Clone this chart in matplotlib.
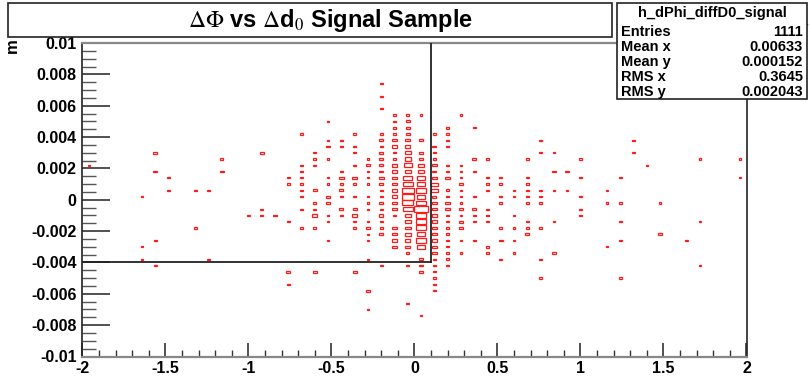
import numpy as np
import matplotlib
matplotlib.use("Agg")
import matplotlib.pyplot as plt
from matplotlib.patches import Rectangle

# ---------------- data ----------------
x_range = (-2.0, 2.0)
y_range = (-0.01, 0.01)
x_bin_width = 0.08
y_bin_width = 0.0004

row_y = [0.0086, 0.0074, 0.0066, 0.0058, 0.0054, 0.0050, 0.0046, 0.0042, 0.0038,
         0.0034, 0.0030, 0.0026, 0.0022, 0.0018, 0.0014, 0.0010, 0.0006, 0.0002,
         -0.0002, -0.0006, -0.0010, -0.0014, -0.0018, -0.0022, -0.0026, -0.0030,
         -0.0034, -0.0038, -0.0042, -0.0046, -0.0050, -0.0054, -0.0058, -0.0066,
         -0.0070, -0.0074]

row_x = [
    [1.32],
    [-0.20],
    [-0.20],
    [-0.20],
    [-0.12, -0.04, 0.04, 0.28],
    [-0.52, -0.12, -0.04],
    [-0.12, -0.04, 0.20, 0.36],
    [-0.68, -0.36, -0.20, -0.12, -0.04, 0.12, 0.20],
    [-0.52, -0.44, -0.20, -0.12, -0.04, 0.04, 0.20, 0.76, 1.32],
    [-0.52, -0.44, -0.36, -0.20, -0.12, -0.04, 0.12, 0.20],
    [-1.56, -0.92, -0.60, -0.36, -0.20, -0.12, -0.04, 0.04, 0.12, 0.76, 0.84, 1.32],
    [-1.16, -0.60, -0.52, -0.28, -0.20, -0.12, -0.04, 0.04, 0.12, 0.36, 0.44, 0.68, 1.00, 1.72, 1.96],
    [-1.96, -0.68, -0.60, -0.36, -0.28, -0.20, -0.12, -0.04, 0.04, 0.12, 0.20, 0.28, 1.40],
    [-1.56, -1.16, -0.68, -0.44, -0.28, -0.20, -0.12, -0.04, 0.04, 0.12, 0.20, 0.28, 0.36, 0.84, 0.92],
    [-1.48, -0.76, -0.68, -0.52, -0.44, -0.36, -0.28, -0.20, -0.12, -0.04, 0.04, 0.12, 0.20, 0.28, 0.44, 0.52, 0.68, 1.00, 1.24, 1.96],
    [-0.76, -0.68, -0.52, -0.44, -0.36, -0.28, -0.20, -0.12, -0.04, 0.04, 0.12, 0.28, 0.44, 0.52, 0.68],
    [-1.48, -1.32, -1.24, -0.68, -0.60, -0.44, -0.20, -0.12, -0.04, 0.04, 0.12, 0.20, 0.28, 0.44, 0.60, 0.68, 0.76, 0.84, 0.92, 1.16],
    [-1.64, -0.68, -0.52, -0.44, -0.36, -0.28, -0.20, -0.12, -0.04, 0.04, 0.12, 0.20, 0.28, 0.36, 0.52, 0.60, 0.68, 0.76, 1.00],
    [-0.60, -0.52, -0.28, -0.20, -0.12, -0.04, 0.04, 0.12, 0.20, 0.28, 0.52, 0.68, 0.76, 1.16, 1.24, 1.48],
    [-0.92, -0.68, -0.60, -0.44, -0.36, -0.28, -0.20, -0.12, -0.04, 0.04, 0.12, 0.20, 0.28, 0.36, 0.44, 1.00],
    [-1.00, -0.92, -0.84, -0.60, -0.52, -0.44, -0.36, -0.20, -0.12, -0.04, 0.04, 0.12, 0.20, 0.28, 0.36, 0.44, 0.60, 1.00],
    [-0.76, -0.52, -0.36, -0.28, -0.20, -0.04, 0.04, 0.12, 0.20, 0.28, 0.36, 0.44, 0.68, 0.84, 1.24, 1.72],
    [-1.32, -0.68, -0.60, -0.36, -0.28, -0.20, -0.12, -0.04, 0.04, 0.12, 0.20, 0.28, 0.52, 0.60, 0.68, 0.76],
    [-0.28, -0.20, -0.12, -0.04, 0.04, 0.12, 0.20, 0.68, 1.48],
    [-1.56, -0.52, -0.28, -0.12, -0.04, 0.04, 0.12, 0.20, 0.28, 0.36, 0.52, 0.60, 1.24, 1.64],
    [-1.64, -0.12, -0.04, 0.04, 0.12, 0.20, 0.44, 1.16],
    [-0.04, 0.12, 0.20, 0.28, 0.44, 0.60, 0.84],
    [-1.64, -1.24, -0.28, 0.04, 0.12, 0.20, 0.52, 0.76],
    [-1.56, -0.20, -0.04, 0.04, 0.12, 0.20, 1.72],
    [-0.76, -0.60, -0.36, 0.04, 0.12],
    [0.12, 0.76, 1.24],
    [-0.76, 0.12],
    [-0.28, 0.12],
    [-0.04],
    [-0.28],
    [0.04],
]

row_n = [
    [1],
    [1],
    [1],
    [1],
    [1, 1, 1, 1],
    [1, 1, 2],
    [2, 2, 2, 1],
    [2, 1, 1, 2, 2, 1, 1],
    [1, 1, 2, 3, 3, 2, 1, 1, 1],
    [2, 1, 1, 1, 4, 4, 2, 2],
    [2, 2, 1, 1, 2, 1, 6, 3, 1, 1, 1, 1],
    [1, 1, 1, 1, 3, 1, 6, 3, 1, 2, 2, 1, 1, 1, 1],
    [1, 1, 1, 1, 3, 3, 4, 8, 4, 3, 1, 1, 1],
    [2, 2, 2, 1, 1, 2, 4, 6, 4, 2, 2, 1, 1, 2, 2],
    [1, 1, 1, 1, 3, 3, 1, 4, 4, 12, 8, 3, 3, 1, 1, 1, 1, 1, 1, 1],
    [1, 1, 1, 1, 1, 1, 3, 4, 13, 8, 6, 3, 1, 1, 1],
    [1, 1, 1, 1, 2, 2, 1, 4, 20, 12, 6, 2, 1, 1, 1, 1, 1, 1, 1, 1],
    [1, 1, 3, 1, 1, 1, 1, 4, 22, 10, 2, 1, 1, 1, 1, 1, 1, 1, 1],
    [1, 3, 1, 3, 4, 16, 14, 4, 3, 1, 1, 1, 1, 1, 1, 1],
    [1, 1, 1, 2, 2, 1, 1, 4, 13, 25, 4, 3, 3, 2, 1, 1],
    [1, 1, 2, 3, 1, 1, 3, 3, 1, 6, 15, 4, 1, 1, 1, 1, 1, 2],
    [1, 1, 1, 1, 1, 6, 15, 4, 1, 3, 1, 1, 1, 1, 1, 1],
    [1, 1, 1, 1, 2, 1, 3, 5, 16, 4, 2, 2, 1, 1, 1, 1],
    [1, 2, 3, 5, 9, 4, 2, 2, 2],
    [1, 1, 1, 3, 4, 12, 4, 1, 1, 1, 2, 1, 1, 1],
    [1, 3, 3, 8, 4, 1, 2, 1],
    [1, 3, 2, 1, 1, 1, 2],
    [1, 1, 1, 3, 1, 2, 1, 1],
    [1, 1, 1, 2, 1, 1, 1],
    [2, 2, 2, 2, 1],
    [1, 1, 1],
    [1, 1],
    [2, 1],
    [1],
    [1],
    [1],
]

# crosshair drawn on the pad
cut_x = 0.1
cut_y = -0.004

title_text = r"$\Delta\Phi$ vs $\Delta$d$_{0}$ Signal Sample"
y_axis_title = "m"
x_tick_values = [-2, -1.5, -1, -0.5, 0, 0.5, 1, 1.5, 2]
x_tick_labels = ["-2", "-1.5", "-1", "-0.5", "0", "0.5", "1", "1.5", "2"]
y_tick_values = [-0.01, -0.008, -0.006, -0.004, -0.002, 0, 0.002, 0.004, 0.006, 0.008, 0.01]
y_tick_labels = ["-0.01", "-0.008", "-0.006", "-0.004", "-0.002", "0",
                 "0.002", "0.004", "0.006", "0.008", "0.01"]

stats_name = "h_dPhi_diffD0_signal"
stats_labels = ["Entries", "Mean x", "Mean y", "RMS x", "RMS y"]
stats_values = ["1111", "0.00633", "0.000152", "0.3645", "0.002043"]

# ---------------- drawing ----------------
W, H = 810, 376
FONT = ["Liberation Sans Narrow", "Liberation Sans", "DejaVu Sans"]
plt.rcParams["font.family"] = FONT
plt.rcParams["mathtext.fontset"] = "stix"

fig = plt.figure(figsize=(W / 100, H / 100), dpi=100)
fig.patch.set_facecolor("white")

def fx(px):
    return px / W

def fy(py):
    return 1 - py / H

ax_l, ax_r, ax_t, ax_b = 82.3, 746.5, 43.0, 356.5
ax = fig.add_axes([fx(ax_l), fy(ax_b), fx(ax_r) - fx(ax_l), fy(ax_t) - fy(ax_b)])
ax.set_xlim(*x_range)
ax.set_ylim(*y_range)

nmax = max(max(r) for r in row_n)
for yc, xs, ns in zip(row_y, row_x, row_n):
    for xc, n in zip(xs, ns):
        s = np.sqrt(n / nmax)
        w = x_bin_width * s
        h = y_bin_width * s
        ax.add_patch(Rectangle((xc - w / 2, yc - h / 2), w, h, fill=False,
                               edgecolor="#ff1a1a", linewidth=0.9))

# crosshair
ax.plot([cut_x, cut_x], [cut_y, y_range[1]], color="#222222", lw=1.3, zorder=5)
ax.plot([x_range[0], cut_x], [cut_y, cut_y], color="#222222", lw=1.3, zorder=5)

# axes styling (ROOT-like: ticks inside, left & bottom only)
for side in ["left", "right"]:
    ax.spines[side].set_color("#222222")
    ax.spines[side].set_linewidth(1.2)
for side in ["top", "bottom"]:
    ax.spines[side].set_color("#888888")
    ax.spines[side].set_linewidth(1.6)

ax.set_xticks(x_tick_values)
ax.set_xticklabels(x_tick_labels, fontsize=11.5, fontweight="bold")
ax.set_yticks(y_tick_values)
ax.set_yticklabels(y_tick_labels, fontsize=11.5, fontweight="bold")
ax.set_xticks(np.arange(-2, 2.0001, 0.1), minor=True)
ax.set_yticks(np.arange(-0.01, 0.01001, 0.0005), minor=True)
ax.tick_params(axis="x", which="major", direction="in", length=10, width=1.2,
               color="#333333", pad=3, top=False)
ax.tick_params(axis="x", which="minor", direction="in", length=5, width=1.0,
               color="#333333", top=False)
ax.tick_params(axis="y", which="major", direction="in", length=20, width=1.2,
               color="#333333", pad=4, right=False)
ax.tick_params(axis="y", which="minor", direction="in", length=10, width=1.0,
               color="#555555", right=False)

# y axis title
fig.text(fx(12), fy(46), y_axis_title, rotation=90, fontsize=12,
         fontweight="bold", ha="center", va="center")

# title box
fig.patches.append(Rectangle((fx(8), fy(37)), fx(612) - fx(8), fy(3) - fy(37),
                             transform=fig.transFigure, fill=True,
                             facecolor="white", edgecolor="#222222", lw=1.2))
fig.text(fx(330), fy(20), title_text, fontsize=17, fontweight="bold",
         ha="center", va="center")

# stats box
fig.patches.append(Rectangle((fx(617), fy(99)), fx(807) - fx(617), fy(3) - fy(99),
                             transform=fig.transFigure, fill=True,
                             facecolor="white", edgecolor="#222222", lw=1.2,
                             zorder=10))
fig.add_artist(plt.Line2D([fx(617), fx(807)], [fy(24), fy(24)],
                          transform=fig.transFigure, color="#222222", lw=1.0))
fig.text(fx(712), fy(13), stats_name, fontsize=10.5, fontweight="bold",
         ha="center", va="center", zorder=11)
row_py = [32, 47, 62, 77, 92]
for lab, val, py in zip(stats_labels, stats_values, row_py):
    fig.text(fx(621), fy(py), lab, fontsize=10.5, fontweight="bold",
             ha="left", va="center", zorder=11)
    fig.text(fx(803), fy(py), val, fontsize=10.5, fontweight="bold",
             ha="right", va="center", zorder=11)

fig.savefig("out.png", dpi=100, facecolor="white")
